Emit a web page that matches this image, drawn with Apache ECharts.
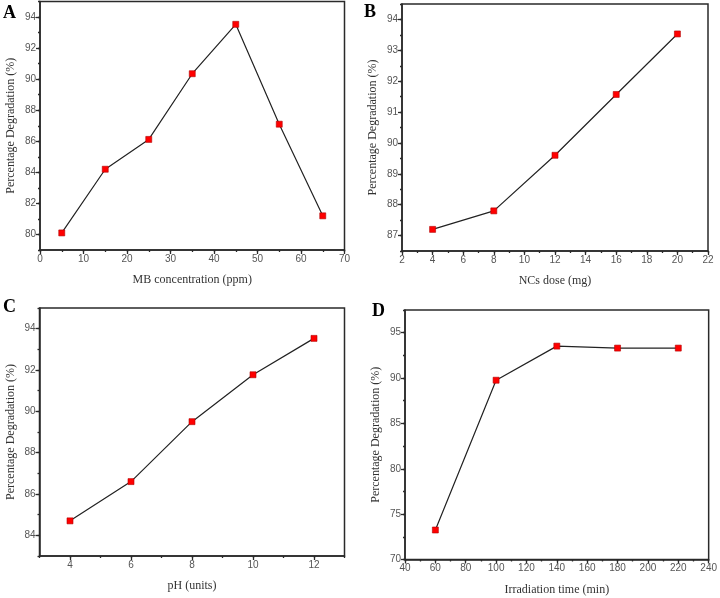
<!DOCTYPE html>
<html><head><meta charset="utf-8">
<script src="https://cdn.jsdelivr.net/npm/echarts@6/dist/echarts.min.js"></script>
<style>html,body{margin:0;padding:0;background:#fff}#c{width:720px;height:598px}</style>
</head><body><div id="c"></div>
<script>
// Panel A
const xA = [5, 15, 25, 35, 45, 55, 65];
const yA = [80.1, 84.2, 86.12, 90.35, 93.53, 87.1, 81.2];
const ticksAx = [0, 10, 20, 30, 40, 50, 60, 70];
const ticksAy = [80, 82, 84, 86, 88, 90, 92, 94];
// Panel B
const xB = [4, 8, 12, 16, 20];
const yB = [87.2, 87.8, 89.6, 91.57, 93.53];
const ticksBx = [2, 4, 6, 8, 10, 12, 14, 16, 18, 20, 22];
const ticksBy = [87, 88, 89, 90, 91, 92, 93, 94];
// Panel C
const xC = [4, 6, 8, 10, 12];
const yC = [84.7, 86.6, 89.5, 91.77, 93.53];
const ticksCx = [4, 6, 8, 10, 12];
const ticksCy = [84, 86, 88, 90, 92, 94];
// Panel D
const xD = [60, 100, 140, 180, 220];
const yD = [73.25, 89.76, 93.52, 93.3, 93.3];
const ticksDx = [40, 60, 80, 100, 120, 140, 160, 180, 200, 220, 240];
const ticksDy = [70, 75, 80, 85, 90, 95];

const yTitle = 'Percentage Degradation (%)';
const panels = [
  {letter:'A', lx:3, ly:4, grid:{left:40, top:1.5, width:304.5, height:248.5},
   x:xA, y:yA, xr:[0,70], yr:[79,95], xMaj:ticksAx, yMaj:ticksAy, xMin:5, yMin:1,
   xName:'MB concentration (ppm)'},
  {letter:'B', lx:364, ly:3, grid:{left:402, top:4, width:306, height:247},
   x:xB, y:yB, xr:[2,22], yr:[86.5,94.5], xMaj:ticksBx, yMaj:ticksBy, xMin:1, yMin:0.5,
   xName:'NCs dose (mg)'},
  {letter:'C', lx:3, ly:298, grid:{left:39.5, top:308, width:305, height:248},
   x:xC, y:yC, xr:[3,13], yr:[83,95], xMaj:ticksCx, yMaj:ticksCy, xMin:1, yMin:1,
   xName:'pH (units)'},
  {letter:'D', lx:372, ly:302, grid:{left:405, top:310, width:305, height:249.5},
   x:xD, y:yD, xr:[40,240], yr:[70,97.5], xMaj:ticksDx, yMaj:ticksDy, xMin:10, yMin:2.5,
   xName:'Irradiation time (min)'}
];

const frameColor = '#2a2a2a';
const labelStyle = {fontFamily:'Liberation Sans', fontSize:10, color:'#555', margin:4};
const nameStyle = {fontFamily:'Liberation Serif', fontSize:12, color:'#333'};

const grids = [], xAxes = [], yAxes = [], series = [], graphics = [];
panels.forEach((p, i) => {
  grids.push(Object.assign({show:true, borderColor:frameColor, borderWidth:1.5, backgroundColor:'transparent'}, p.grid));
  // main x axis
  xAxes.push({type:'value', gridIndex:i, position:'bottom', min:p.xr[0], max:p.xr[1],
    axisLine:{show:true, onZero:false, lineStyle:{color:frameColor, width:1.5}},
    axisTick:{show:true, length:4, customValues:p.xMaj, lineStyle:{color:frameColor, width:1.3}},
    axisLabel:Object.assign({customValues:p.xMaj}, labelStyle),
    splitLine:{show:false},
    name:p.xName, nameLocation:'middle', nameGap:24, nameTextStyle:nameStyle});
  // minor x axis
  xAxes.push({type:'value', gridIndex:i, position:'bottom', offset:0, min:p.xr[0], max:p.xr[1], interval:p.xMin,
    axisLine:{show:false, onZero:false}, axisTick:{show:true, length:2, lineStyle:{color:frameColor, width:1.3}},
    axisLabel:{show:false}, splitLine:{show:false}});
  yAxes.push({type:'value', gridIndex:i, position:'left', min:p.yr[0], max:p.yr[1],
    axisLine:{show:true, onZero:false, lineStyle:{color:frameColor, width:1.5}},
    axisTick:{show:true, length:4, customValues:p.yMaj, lineStyle:{color:frameColor, width:1.3}},
    axisLabel:Object.assign({customValues:p.yMaj}, labelStyle),
    splitLine:{show:false},
    name:yTitle, nameLocation:'middle', nameGap:23, nameTextStyle:nameStyle});
  yAxes.push({type:'value', gridIndex:i, position:'left', offset:0, min:p.yr[0], max:p.yr[1], interval:p.yMin,
    axisLine:{show:false, onZero:false}, axisTick:{show:true, length:2, lineStyle:{color:frameColor, width:1.3}},
    axisLabel:{show:false}, splitLine:{show:false}});
  series.push({type:'line', xAxisIndex:2*i, yAxisIndex:2*i,
    data:p.x.map((v, k) => [v, p.y[k]]),
    symbol:'rect', symbolSize:6,
    lineStyle:{color:'#222', width:1.2},
    itemStyle:{color:'#ff0000', borderColor:'#b00000', borderWidth:0.6},
    animation:false, z:3});
  graphics.push({type:'text', left:p.lx, top:p.ly,
    style:{text:p.letter, font:'bold 18px "Liberation Serif"', fill:'#000'}});
});

const chart = echarts.init(document.getElementById('c'), null, {renderer:'canvas'});
chart.setOption({
  animation:false,
  grid:grids, xAxis:xAxes, yAxis:yAxes, series:series, graphic:graphics
});
</script></body></html>
